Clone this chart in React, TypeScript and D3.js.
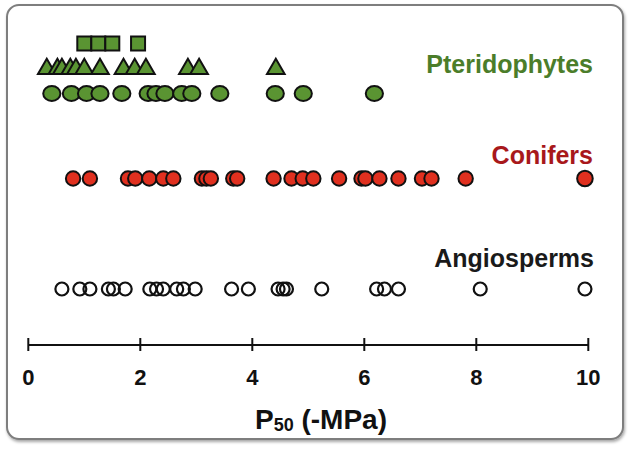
import React from "react";
import * as d3 from "d3";

const W = 630;
const H = 453;

const groups = ["Pteridophytes", "Conifers", "Angiosperms"];
const xTicks = [0, 2, 4, 6, 8, 10];

const fernSquares = [1.0, 1.25, 1.5, 1.96];
const fernTriangles = [0.33, 0.52, 0.6, 0.75, 0.85, 1.0, 1.28, 1.7, 1.9, 2.1, 2.85, 3.05, 4.42];
const fernCircles = [0.42, 0.77, 1.04, 1.28, 1.67, 2.14, 2.28, 2.44, 2.74, 2.92, 3.42, 4.41, 4.91, 6.18];
const conifers = [0.8, 1.1, 1.78, 1.91, 2.16, 2.41, 2.59, 3.1, 3.18, 3.26, 3.66, 3.73, 4.38, 4.7, 4.9, 5.09, 5.55, 5.95, 6.02, 6.27, 6.61, 7.03, 7.2, 7.81, 9.94];
const angiosperms = [0.6, 0.92, 1.1, 1.43, 1.52, 1.73, 2.17, 2.29, 2.41, 2.65, 2.77, 2.98, 3.63, 3.93, 4.46, 4.55, 4.61, 5.24, 6.22, 6.36, 6.61, 8.07, 9.94];

const GREEN_FILL = "#5a9432";
const GREEN_TEXT = "#4b7d2a";
const RED_FILL = "#e0301f";
const RED_TEXT = "#a8181b";

export default function App() {
  const x = d3.scaleLinear().domain([0, 10]).range([28.3, 588.3]);
  const rowY: Record<string, number> = {
    squares: 43.5,
    triangles: 68,
    fernCircles: 93.5,
    conifers: 178.5,
    angio: 289,
  };
  const axisY = 345;
  const tri = d3.symbol().type(d3.symbolTriangle).size(135)();
  const font = "'Liberation Sans', Arial, Helvetica, sans-serif";

  return (
    <svg
      width={W}
      height={H}
      viewBox={`0 0 ${W} ${H}`}
      style={{ position: "absolute", left: 0, top: 0, background: "#fff" }}
    >
      <defs>
        <filter id="sh" x="-5%" y="-5%" width="110%" height="110%">
          <feDropShadow dx="1" dy="2" stdDeviation="1.5" floodColor="#000" floodOpacity="0.35" />
        </filter>
      </defs>
      <rect x={7} y={5} width={616} height={434} rx={12} ry={12} fill="#fff" stroke="#7e7e7e" strokeWidth={2} filter="url(#sh)" />

      {/* Pteridophytes */}
      {fernCircles.map((v, i) => (
        <ellipse key={"fc" + i} cx={x(v)} cy={rowY.fernCircles} rx={8.6} ry={7.6} fill={GREEN_FILL} stroke="#111" strokeWidth={2} />
      ))}
      {fernTriangles.map((v, i) => (
        <path key={"ft" + i} d={tri as string} transform={`translate(${x(v)},${rowY.triangles + 1})`} fill={GREEN_FILL} stroke="#111" strokeWidth={2} strokeLinejoin="miter" />
      ))}
      {fernSquares.map((v, i) => (
        <rect key={"fs" + i} x={x(v) - 7} y={rowY.squares - 7} width={14} height={14} fill={GREEN_FILL} stroke="#111" strokeWidth={2} />
      ))}

      {/* Conifers */}
      {conifers.map((v, i) => (
        <circle key={"c" + i} cx={x(v)} cy={rowY.conifers} r={i === conifers.length - 1 ? 7.8 : 7.2} fill={RED_FILL} stroke="#111" strokeWidth={2} />
      ))}

      {/* Angiosperms */}
      {angiosperms.map((v, i) => (
        <circle key={"a" + i} cx={x(v)} cy={rowY.angio} r={6.5} fill="none" stroke="#111" strokeWidth={2.2} />
      ))}

      {/* Group labels */}
      <text x={593} y={73} textAnchor="end" fontFamily={font} fontWeight="bold" fontSize={25} fill={GREEN_TEXT}>{groups[0]}</text>
      <text x={593} y={163.5} textAnchor="end" fontFamily={font} fontWeight="bold" fontSize={25} fill={RED_TEXT}>{groups[1]}</text>
      <text x={594} y={266.5} textAnchor="end" fontFamily={font} fontWeight="bold" fontSize={25} fill="#1a1a1a">{groups[2]}</text>

      {/* Axis */}
      <line x1={x(0)} x2={x(10)} y1={axisY} y2={axisY} stroke="#111" strokeWidth={2} />
      {xTicks.map((t) => (
        <g key={"t" + t}>
          <line x1={x(t)} x2={x(t)} y1={axisY - 7} y2={axisY + 6} stroke="#111" strokeWidth={2} />
          <text x={x(t)} y={385} textAnchor="middle" fontFamily={font} fontWeight="bold" fontSize={22} fill="#111">{t}</text>
        </g>
      ))}
      <text x={321} y={429} textAnchor="middle" fontFamily={font} fontWeight="bold" fontSize={28} fill="#111">
        P<tspan fontSize={18} dy={2}>50</tspan><tspan dy={-2}> (-MPa)</tspan>
      </text>
    </svg>
  );
}
